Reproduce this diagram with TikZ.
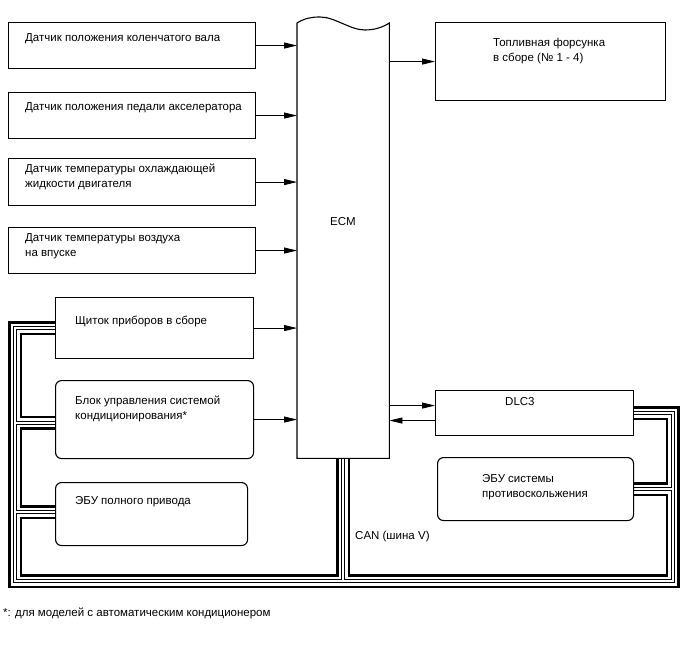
\documentclass[tikz,border=0pt]{standalone}
\usepackage{fontspec}
\setmainfont{Liberation Sans}
\usetikzlibrary{arrows.meta,calc}
\pgfdeclarelayer{background}
\pgfsetlayers{background,main}
\begin{document}
\begin{tikzpicture}[x=1pt,y=-1pt,
  box/.style={draw, line width=1.1pt, fill=white, inner sep=0, anchor=north west},
  rbox/.style={box, rounded corners=6pt},
  txt/.style={inner sep=0, anchor=base west, align=left, font=\fontsize{11.5}{15}\selectfont},
  arr/.style={line width=0.8pt, -{Triangle[length=13pt,width=6pt]}},
  canlayer/.style={line width=#1, line join=miter, line cap=butt}
]
\useasboundingbox (0,0) rectangle (688,658);

% boxes
\node[box, minimum width=247pt, minimum height=46pt] (b1) at (8,22) {};
\node[box, minimum width=247pt, minimum height=46pt] (b2) at (8,92) {};
\node[box, minimum width=247pt, minimum height=47pt] (b3) at (8,158) {};
\node[box, minimum width=247pt, minimum height=46pt] (b4) at (8,227) {};
\node[box, minimum width=198pt, minimum height=61pt] (b5) at (55,297) {};
\node[rbox, minimum width=198pt, minimum height=78pt] (b6) at (55,380) {};
\node[rbox, minimum width=192pt, minimum height=63pt] (b7) at (55,482) {};
\node[box, minimum width=230pt, minimum height=78pt] (inj) at (435,22) {};
\node[box, minimum width=198pt, minimum height=45pt] (dlc) at (435,390) {};
\node[rbox, minimum width=196pt, minimum height=63pt] (abs) at (437,457) {};
\node[inner sep=0, minimum width=92pt, minimum height=435pt, anchor=north west] (ecm) at (297,23) {};

% ECM outline with wavy top
\draw[line width=1.1pt, fill=white] (ecm.north west)
  .. controls (305,18) and (312,17) .. (320,17)
  .. controls (335,17) and (350,30) .. (365,30)
  .. controls (375,30) and (383,27) .. (ecm.north east)
  -- (ecm.south east) -- (ecm.south west) -- cycle;

% texts
\node[txt] (t1) at (25,42) {Датчик положения коленчатого вала};
\node[txt] (t2) at (25,111) {Датчик положения педали акселератора};
\node[txt] (t3) at (25,187) {Датчик температуры охлаждающей\\жидкости двигателя};
\node[txt] (t4) at (25,256) {Датчик температуры воздуха\\на впуске};
\node[txt] (t5) at (75,324) {Щиток приборов в сборе};
\node[txt] (t6) at (75,419) {Блок управления системой\\кондиционирования*};
\node[txt] (t7) at (75,504) {ЭБУ полного привода};
\node[txt] (tecm) at (330,225) {ECM};
\node[txt] (tinj) at (493,62) {Топливная форсунка\\в сборе (№ 1 - 4)};
\node[txt] (tdlc) at (505,405) {DLC3};
\node[txt] (tabs) at (482,497) {ЭБУ системы\\противоскольжения};
\node[txt] (tcan) at (355,539) {CAN (шина V)};
\node[txt] (tfoot) at (3,616) {*: для моделей с автоматическим кондиционером};

% arrows
\draw[arr] (b1.east) -- (b1.east -| ecm.west);
\draw[arr] (b2.east) -- (b2.east -| ecm.west);
\draw[arr] (b3.east) -- (b3.east -| ecm.west);
\draw[arr] (b4.east) -- (b4.east -| ecm.west);
\draw[arr] (b5.east) -- (b5.east -| ecm.west);
\draw[arr] (b6.east) -- (b6.east -| ecm.west);
\draw[arr] (inj.west -| ecm.east) -- (inj.west);
\path ([yshift=7.5pt]dlc.west) coordinate (d1) ([yshift=-7.5pt]dlc.west) coordinate (d2);
\draw[arr] (d1 -| ecm.east) -- (d1);
\draw[arr] (d2) -- (d2 -| ecm.east);

% CAN bus
\coordinate (bl) at (15,581);
\coordinate (br) at (672.5,581);
\path ([yshift=-3pt]b6.west) coordinate (s6) ([yshift=2pt]b7.west) coordinate (s7);
\newcommand\canroute{(b5.west) -| (bl) -- (br) |- (dlc.east)
  (s6) -- (s6 -| bl) (s7) -- (s7 -| bl)
  (ecm.south) -- (ecm.south |- bl)
  (abs.east) -- (abs.east -| br)}
\begin{pgfonlayer}{background}
\foreach \w/\c in {14/black, 9/white, 4/black, 2/white}
  \draw[canlayer=\w pt, draw=\c] \canroute;
\end{pgfonlayer}
\end{tikzpicture}
\end{document}
